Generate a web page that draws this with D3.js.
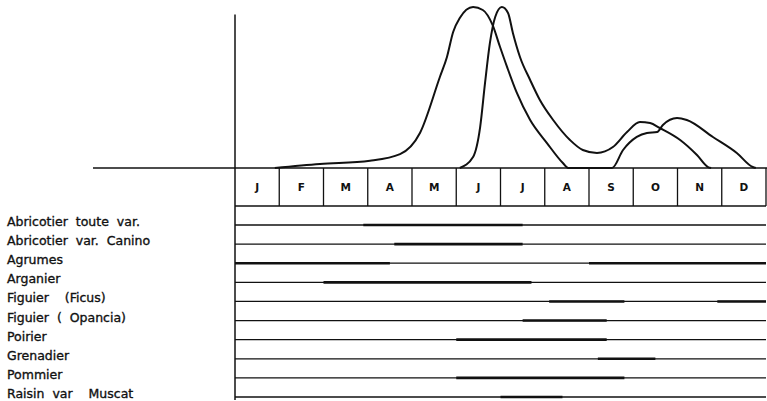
<!DOCTYPE html>
<html><head><meta charset="utf-8">
<script src="https://cdn.jsdelivr.net/npm/d3@7/dist/d3.min.js"></script>
<style>body{margin:0;background:#fff}svg{display:block}</style>
</head><body><svg id="c" width="767" height="401"></svg>
<script>
const months = ["J","F","M","A","M","J","J","A","S","O","N","D"];
const crops = ["Abricotier toute var.","Abricotier var. Canino","Agrumes","Arganier","Figuier  (Ficus)","Figuier ( Opancia)","Poirier","Grenadier","Pommier","Raisin var  Muscat"];
// curve A (earlier peak): month position / relative value
const curveAMonth = [0.9,1.92,3.05,3.73,4.18,4.63,4.79,4.93,5.08,5.38,5.6,5.82,5.99,6.15,6.37,6.67,7.05,7.41,7.53,8.52,8.77,9.08,9.31,9.54,9.67,9.99,10.21,10.8,11.34,11.7,11.77];
const curveAValue = [0,2.5,4.6,8.7,21.9,56.9,69.4,85,93.75,100.6,98.75,89.4,75.6,63,46.9,30,15.6,3.1,0,0,11.25,19.4,21.9,22.5,26.9,31.25,30,19.4,9.4,0.6,0];
// curve B (later peak)
const curveBMonth = [5.08,5.38,5.54,5.65,5.76,5.88,6.03,6.17,6.28,6.44,6.67,6.89,7.19,7.57,7.86,8.18,8.54,8.86,9.15,9.38,9.6,10.06,10.44,10.69,10.76];
const curveBValue = [0,6.9,25.6,53,78,94.4,100.6,96.9,84.4,69.4,55,42.5,30,17.5,11.25,9.4,13.1,22.5,28.75,28.1,25,17.5,8.1,0.6,0];
// harvest periods (thick segments): row index, start month, end month
const segRow  = [0,1,2,2,3,4,4,5,6,7,8,9];
const segFrom = [2.9,3.6,0,8.0,2.0,7.1,10.9,6.5,5.0,8.2,5.0,6.0];
const segTo   = [6.5,6.5,3.5,12,6.7,8.8,12,8.4,8.4,9.5,8.8,7.4];

const svg = d3.select("#c");
const x = d3.scaleLinear().domain([0,12]).range([235,766]);
const y = d3.scaleLinear().domain([0,100]).range([168,8]);
const row = d3.scalePoint().domain(crops).range([225,397]);
const ink = "#111";
const font = "'DejaVu Sans', sans-serif";

// baseline and vertical axis
svg.append("line").attr("x1",93).attr("x2",767).attr("y1",y(0)).attr("y2",y(0)).attr("stroke",ink).attr("stroke-width",1.5);
svg.append("line").attr("x1",x(0)).attr("x2",x(0)).attr("y1",y(96)).attr("y2",400).attr("stroke",ink).attr("stroke-width",1.5);

// month boxes
const boxBottom = 206;
svg.append("line").attr("x1",x(0)).attr("x2",x(12)).attr("y1",boxBottom).attr("y2",boxBottom).attr("stroke",ink).attr("stroke-width",1.5);
svg.selectAll(".div").data(d3.range(1,13)).join("line")
  .attr("x1",d=>x(d)).attr("x2",d=>x(d)).attr("y1",y(0)).attr("y2",boxBottom)
  .attr("stroke",ink).attr("stroke-width",1.3);
svg.selectAll(".mon").data(months).join("text")
  .attr("x",(d,i)=>x(i+0.5)).attr("y",191).attr("text-anchor","middle")
  .attr("font-family",font).attr("font-weight","bold").attr("font-size",10.5).attr("fill",ink).text(d=>d);

// curves
const line = d3.line().x(d=>x(d[0])).y(d=>y(d[1])).curve(d3.curveMonotoneX);
svg.append("path").attr("d",line(curveAMonth.map((m,i)=>[m,curveAValue[i]]))).attr("fill","none").attr("stroke",ink).attr("stroke-width",2);
svg.append("path").attr("d",line(curveBMonth.map((m,i)=>[m,curveBValue[i]]))).attr("fill","none").attr("stroke",ink).attr("stroke-width",2);

// crop rows
svg.selectAll(".row").data(crops).join("line")
  .attr("x1",x(0)).attr("x2",x(12)).attr("y1",d=>row(d)).attr("y2",d=>row(d))
  .attr("stroke",ink).attr("stroke-width",1.3);
svg.selectAll(".seg").data(segRow).join("line")
  .attr("x1",(d,i)=>x(segFrom[i])).attr("x2",(d,i)=>x(segTo[i]))
  .attr("y1",d=>row(crops[d])).attr("y2",d=>row(crops[d]))
  .attr("stroke",ink).attr("stroke-width",2.6);
svg.selectAll(".lab").data(crops).join("text")
  .attr("x",7).attr("y",d=>row(d)+1).attr("xml:space","preserve").style("white-space","pre")
  .attr("word-spacing",4)
  .attr("font-family",font).attr("font-size",12.5).attr("fill",ink)
  .attr("stroke",ink).attr("stroke-width",0.35).text(d=>d);
</script></body></html>
